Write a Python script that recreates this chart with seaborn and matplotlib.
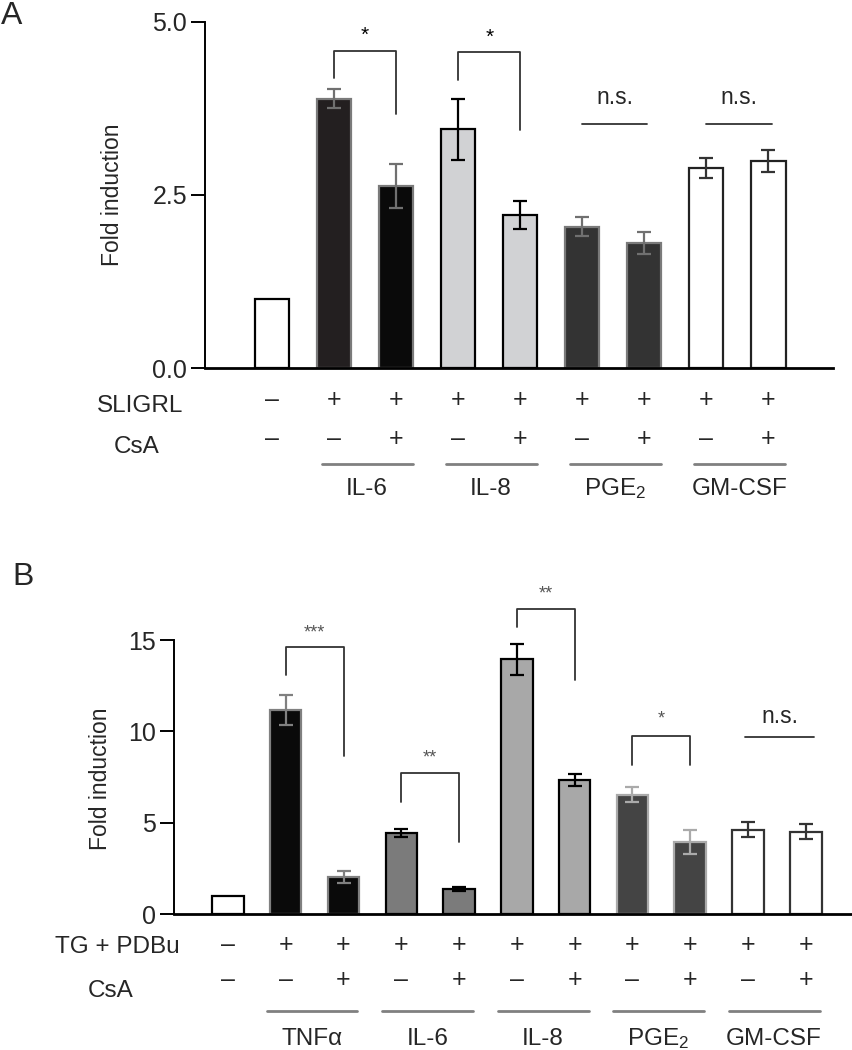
import matplotlib
matplotlib.use("Agg")
import matplotlib.pyplot as plt
import matplotlib.transforms as mtransforms
import seaborn as sns
import pandas as pd

# ---- panel A data (SLIGRL stimulation) ----
a_conditions = ["Control", "IL-6", "IL-6 + CsA", "IL-8", "IL-8 + CsA",
                "PGE2", "PGE2 + CsA", "GM-CSF", "GM-CSF + CsA"]
a_mean = [1.0, 3.89, 2.63, 3.45, 2.21, 2.04, 1.81, 2.89, 2.99]
a_err = [0.0, 0.14, 0.32, 0.44, 0.20, 0.14, 0.16, 0.14, 0.16]
a_sligrl = ["–", "+", "+", "+", "+", "+", "+", "+", "+"]
a_csa = ["–", "–", "+", "–", "+", "–", "+", "–", "+"]
a_groups = ["IL-6", "IL-8", r"PGE$_2$", "GM-CSF"]
a_sig = ["*", "*", "n.s.", "n.s."]
a_yticks = [0.0, 2.5, 5.0]

# ---- panel B data (TG + PDBu stimulation) ----
b_conditions = ["Control", "TNFa", "TNFa + CsA", "IL-6", "IL-6 + CsA", "IL-8", "IL-8 + CsA",
                "PGE2", "PGE2 + CsA", "GM-CSF", "GM-CSF + CsA"]
b_mean = [1.0, 11.15, 2.03, 4.43, 1.38, 13.95, 7.35, 6.52, 3.95, 4.62, 4.50]
b_err = [0.0, 0.82, 0.34, 0.22, 0.10, 0.84, 0.33, 0.41, 0.65, 0.42, 0.41]
b_tg = ["–"] + ["+"] * 10
b_csa = ["–", "–", "+", "–", "+", "–", "+", "–", "+", "–", "+"]
b_groups = ["TNFα", "IL-6", "IL-8", r"PGE$_2$", "GM-CSF"]
b_sig = ["***", "**", "**", "*", "n.s."]
b_yticks = [0, 5, 10, 15]

sns.set_style("ticks")
plt.rcParams["font.family"] = ["Liberation Sans", "DejaVu Sans"]
plt.rcParams["mathtext.fontset"] = "custom"
plt.rcParams["mathtext.rm"] = "Liberation Sans"
plt.rcParams["mathtext.it"] = "Liberation Sans:italic"

W, H = 852, 1050
fig = plt.figure(figsize=(W / 100, H / 100), dpi=100)


def fy(px):
    return 1 - px / H


def draw_bars(ax, conds, mean, err, width, face, edge, ecol):
    df = pd.DataFrame({"cond": conds, "mean": mean})
    sns.barplot(data=df, x="cond", y="mean", order=conds, width=width,
                errorbar=None, ax=ax, color="white")
    for p, fc, ec in zip(ax.patches, face, edge):
        p.set_facecolor(fc)
        p.set_edgecolor(ec)
        p.set_linewidth(1.6)
    for i, (m, e, c) in enumerate(zip(mean, err, ecol)):
        if e > 0:
            ax.errorbar(i, m, yerr=e, fmt="none", ecolor=c, elinewidth=1.6,
                        capsize=5, capthick=1.6, zorder=3)
    sns.despine(ax=ax)
    ax.set_xticks([])
    ax.set_xlabel("")
    ax.spines["left"].set_linewidth(1.4)
    ax.spines["left"].set_color("black")
    ax.spines["bottom"].set_linewidth(2.0)
    ax.spines["bottom"].set_color("black")
    ax.tick_params(axis="y", length=10, width=1.4, color="black",
                   labelsize=18, pad=3)


def bracket(ax, x0, x1, top, l_bot, r_bot, txt, ty, fs, tcol):
    ax.plot([x0, x0, x1, x1], [l_bot, top, top, r_bot], color="#333333",
            lw=1.3, clip_on=False)
    ax.text((x0 + x1) / 2, ty, txt, ha="center", va="center", fontsize=fs,
            color=tcol, clip_on=False)


# ================= Panel A =================
axA = fig.add_axes([205 / W, fy(368), (833 - 205) / W, (368 - 21.7) / H])
a_face = ["white", "#231f20", "#0a0a0a", "#d1d2d4", "#d1d2d4",
          "#333333", "#333333", "white", "white"]
a_edge = ["black", "#7a7a7a", "#7a7a7a", "black", "black",
          "#7a7a7a", "#7a7a7a", "#222222", "#222222"]
a_ecol = ["black", "#707070", "#707070", "black", "black",
          "#707070", "#707070", "#333333", "#333333"]
draw_bars(axA, a_conditions, a_mean, a_err, 0.55, a_face, a_edge, a_ecol)
axA.set_ylim(0, 5)
axA.set_xlim(-1.08, 9.04)
axA.set_yticks(a_yticks)
axA.set_yticklabels([f"{t:.1f}" for t in a_yticks])
axA.set_ylabel("Fold induction", fontsize=16.5)
axA.yaxis.label.set_va("center")
axA.yaxis.set_label_coords(-0.1465, 0.5)

bracket(axA, 1, 2, 4.57, 4.18, 3.67, a_sig[0], 4.80, 15, "black")
bracket(axA, 3, 4, 4.56, 4.16, 3.44, a_sig[1], 4.78, 15, "black")
for k, x0 in enumerate([5, 7]):
    axA.plot([x0, x0 + 1.05], [3.52, 3.52], color="#333333", lw=1.3, clip_on=False)
    axA.text(x0 + 0.52, 3.9, a_sig[2 + k], ha="center", va="center", fontsize=16.5)

trA = mtransforms.blended_transform_factory(axA.transData, fig.transFigure)
fig.text(140 / W, fy(406), "SLIGRL", ha="center", va="center", fontsize=17.5)
fig.text(137 / W, fy(447), "CsA", ha="center", va="center", fontsize=17.5)
for i, (s1, s2) in enumerate(zip(a_sligrl, a_csa)):
    axA.text(i, fy(400), s1, transform=trA, ha="center", va="center", fontsize=18)
    axA.text(i, fy(439), s2, transform=trA, ha="center", va="center", fontsize=18)
for k, g in enumerate(a_groups):
    x0 = 1 + 2 * k
    axA.plot([x0 - 0.2, x0 + 1.27], [fy(464)] * 2, transform=trA, color="#808080",
             lw=2, clip_on=False)
    axA.text(x0 + 0.53, fy(489), g, transform=trA, ha="center", va="center",
             fontsize=17.5)

fig.text(12 / W, fy(16), "A", ha="center", va="center", fontsize=23)

# ================= Panel B =================
axB = fig.add_axes([174 / W, fy(914), (W - 174) / W, (914 - 640) / H])
b_face = ["white", "#0a0a0a", "#0a0a0a", "#7b7b7b", "#7b7b7b", "#a8a8a8", "#a8a8a8",
          "#444444", "#444444", "white", "white"]
b_edge = ["black", "#808080", "#808080", "black", "black", "black", "black",
          "#aaaaaa", "#aaaaaa", "#333333", "#333333"]
b_ecol = ["black", "#808080", "#808080", "black", "black", "black", "black",
          "#aaaaaa", "#aaaaaa", "#333333", "#333333"]
draw_bars(axB, b_conditions, b_mean, b_err, 0.545, b_face, b_edge, b_ecol)
axB.set_ylim(0, 15)
axB.set_xlim(-0.934, 10.8)
axB.set_yticks(b_yticks)
axB.set_yticklabels([str(t) for t in b_yticks])
axB.set_ylabel("Fold induction", fontsize=16.5)
axB.yaxis.label.set_va("center")
axB.yaxis.set_label_coords(-0.109, 0.493)

bracket(axB, 1, 2, 14.6, 13.1, 8.65, b_sig[0], 15.4, 13, "#555555")
bracket(axB, 3, 4, 7.7, 6.13, 3.94, b_sig[1], 8.55, 13, "#555555")
bracket(axB, 5, 6, 16.7, 15.7, 12.82, b_sig[2], 17.5, 13, "#555555")
bracket(axB, 7, 8, 9.73, 8.18, 8.15, b_sig[3], 10.7, 13, "#555555")
axB.plot([8.95, 10.15], [9.69, 9.69], color="#333333", lw=1.3, clip_on=False)
axB.text(9.55, 10.8, b_sig[4], ha="center", va="center", fontsize=16.5)

trB = mtransforms.blended_transform_factory(axB.transData, fig.transFigure)
fig.text(117 / W, fy(947), "TG + PDBu", ha="center", va="center", fontsize=17.5)
fig.text(111 / W, fy(991), "CsA", ha="center", va="center", fontsize=17.5)
for i, (s1, s2) in enumerate(zip(b_tg, b_csa)):
    axB.text(i, fy(945), s1, transform=trB, ha="center", va="center", fontsize=18)
    axB.text(i, fy(980), s2, transform=trB, ha="center", va="center", fontsize=18)
for k, g in enumerate(b_groups):
    x0 = 1 + 2 * k
    axB.plot([x0 - 0.33, x0 + 1.24], [fy(1011)] * 2, transform=trB, color="#808080",
             lw=2, clip_on=False)
    axB.text(x0 + 0.45, fy(1039), g, transform=trB, ha="center", va="center",
             fontsize=17.5)

fig.text(23 / W, fy(577), "B", ha="center", va="center", fontsize=23)

fig.savefig("out.png", dpi=100)
